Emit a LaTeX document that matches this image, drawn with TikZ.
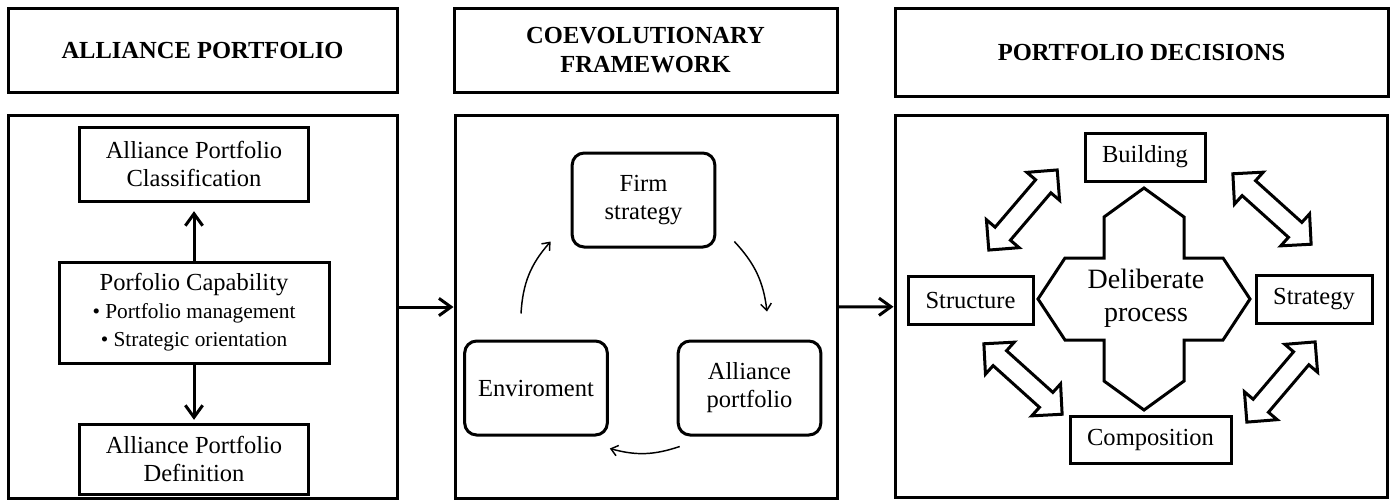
\documentclass[tikz,border=0pt]{standalone}
\usepackage{fontspec}
\setmainfont{Liberation Serif}
\usetikzlibrary{arrows.meta,positioning,shapes.arrows}

\begin{document}
\begin{tikzpicture}[
  x=0.75pt,y=-0.75pt,
  line width=2.25pt,
  header/.style={draw,align=center,minimum height=63pt,font=\fontsize{18.4}{21.5}\selectfont\bfseries},
  panel/.style={draw,minimum width=#1,minimum height=287pt},
  item/.style={draw,align=center,inner sep=0pt,font=\fontsize{18.4}{21}\selectfont},
  stage/.style={item,rounded corners=9pt,minimum width=107pt,minimum height=70.5pt},
  decision/.style={item,minimum height=36pt},
  flow/.style={-{Straight Barb[length=9pt,width=13pt]},line width=2.25pt},
  cycle arrow/.style={-{Straight Barb[length=5pt,width=8pt]},line width=1.1pt},
  swap/.style={double arrow,draw,double arrow head extend=8.6pt,inner xsep=0pt,inner ysep=6.4pt,minimum height=79pt}
]
  \newcommand\bulletsize{\fontsize{16}{20}\selectfont}
  \useasboundingbox (0,0) rectangle (1392,501);

  % headers
  \node[header,minimum width=291.75pt] (lhead) at (202.5,50) {ALLIANCE PORTFOLIO};
  \node[header,minimum width=287.25pt] (mhead) at (645.5,50) {COEVOLUTIONARY\\FRAMEWORK};
  \node[header,minimum width=369.75pt,minimum height=66pt] (rhead) at (1141.5,52) {PORTFOLIO DECISIONS};

  % panels
  \node[panel=291.75pt] (lpanel) at (202.5,307) {};
  \node[panel=286.5pt] (mpanel) at (646,307) {};
  \node[panel=369pt] (rpanel) at (1141,306.5) {};

  % alliance portfolio
  \node[item,minimum width=202.5pt,minimum height=75.75pt] (cap) at (194,312.5)
    {Porfolio Capability\\ {\bulletsize\textbullet{} Portfolio management}\\ {\bulletsize\textbullet{} Strategic orientation}};
  \node[item,minimum width=171.75pt,minimum height=55.5pt,above=43.5pt of cap] (class) {Alliance Portfolio\\Classification};
  \node[item,minimum width=171.75pt,minimum height=52.5pt,below=43.5pt of cap] (def) {Alliance Portfolio\\Definition};
  \draw[flow,shorten >=6.5pt] (cap) -- (class);
  \draw[flow,shorten >=2pt] (cap) -- (def);

  % coevolution
  \node[stage] (firm) at (643.5,200) {Firm\\strategy};
  \node[stage] (env) at (536,388) {Enviroment};
  \node[stage] (alliance) at (749.5,388) {Alliance\\portfolio};
  \draw[cycle arrow] ([shift={(-15,-26)}]env.north) to[bend left=19] ([shift={(-20,-7)}]firm.south west);
  \draw[cycle arrow] ([shift={(18,-7)}]firm.south east) to[bend left=18] ([shift={(17.5,-28)}]alliance.north);
  \draw[cycle arrow] ([shift={(3,10)}]alliance.south west) to[bend left=17] ([shift={(1,12)}]env.south east);

  % portfolio decisions
  \draw[shift={(1144,299)}] (0,-111) -- (40,-82) -- (40,-41) -- (79,-41) -- (106,0) -- (79,41)
    -- (40,41) -- (40,82) -- (0,111) -- (-40,82) -- (-40,41) -- (-79,41) -- (-106,0)
    -- (-79,-41) -- (-40,-41) -- (-40,-82) -- cycle;
  \node[align=center,font=\fontsize{21}{24.75}\selectfont] (delib) at (1146,298) {Deliberate\\process};
  \node[decision,minimum width=90pt] (build) at (1145,157) {Building};
  \node[decision,minimum width=93.75pt] (struct) at (970.5,300) {Structure};
  \node[decision,minimum width=87pt] (strat) at (1314,299) {Strategy};
  \node[decision,minimum width=120.75pt,minimum height=35.25pt] (comp) at (1150.5,439.5) {Composition};
  \node[swap,rotate=49.5] (sb) at (1023,210) {};
  \node[swap,rotate=-42] (bs) at (1272,209) {};
  \node[swap,rotate=-42] (sc) at (1023,379) {};
  \node[swap,rotate=49.6] (cs) at (1281,382) {};

  % between panels
  \draw[flow] (lpanel) -- (mpanel);
  \draw[flow] (mpanel) -- (rpanel);
\end{tikzpicture}
\end{document}
